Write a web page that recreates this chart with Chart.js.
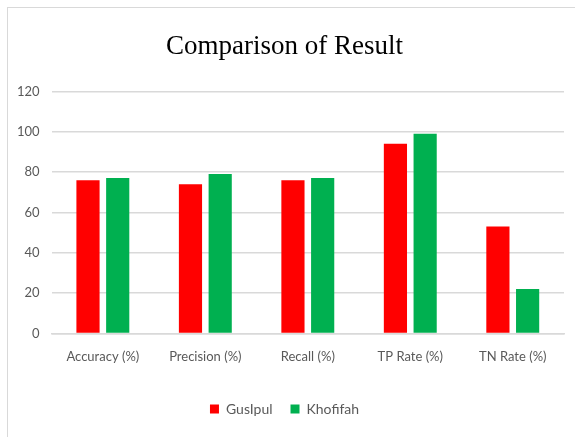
<!DOCTYPE html>
<html>
<head>
<meta charset="utf-8">
<script src="https://cdn.jsdelivr.net/npm/chart.js@4"></script>
<style>
  html, body { margin: 0; padding: 0; background: #fff; }
  body { width: 575px; height: 437px; overflow: hidden; position: relative; }
  #marco { position: absolute; left: 7px; top: 7px; width: 600px; height: 460px; border: 1.5px solid #d9d9d9; box-sizing: border-box; }
  #lienzo { position: absolute; left: 0; top: 0; width: 575px; height: 437px; }
</style>
</head>
<body>
<div id="marco"></div>
<div id="lienzo"><canvas id="grafico"></canvas></div>
<script>
/* --------------- datos del grafico --------------- */
const categorias = ['Accuracy (%)', 'Precision (%)', 'Recall (%)', 'TP Rate (%)', 'TN Rate (%)'];
const gusipul = [76, 74, 76, 94, 53];
const khofifah = [77, 79, 77, 99, 22];
const ticksY = [0, 20, 40, 60, 80, 100, 120];

document.addEventListener('DOMContentLoaded', () => {
    const selector = document.getElementById('grafico');
    const fuenteEje = { family: 'Lato', size: 13 };

    new Chart(selector, {
        type: 'bar',
        data: {
            labels: categorias,
            datasets: [
                {
                    label: 'GusIpul',
                    data: gusipul,
                    backgroundColor: '#ff0000',
                    categoryPercentage: 0.58,
                    barPercentage: 0.78
                },
                {
                    label: 'Khofifah',
                    data: khofifah,
                    backgroundColor: '#00b050',
                    categoryPercentage: 0.58,
                    barPercentage: 0.78
                }
            ]
        },
        options: {
            responsive: true,
            maintainAspectRatio: false,
            animation: false,
            layout: { padding: { left: 5, right: 11, top: 22, bottom: 11 } },
            scales: {
                x: {
                    grid: { display: false },
                    border: { color: '#d9d9d9', width: 1.5 },
                    ticks: { color: '#595959', font: fuenteEje, padding: 8, maxRotation: 0 },
                    afterFit: (eje) => { eje.height += 11; }
                },
                y: {
                    min: 0,
                    max: 120,
                    afterBuildTicks: (eje) => { eje.ticks = ticksY.map(v => ({ value: v })); },
                    grid: { color: '#d9d9d9', lineWidth: 1.5, drawTicks: false },
                    border: { display: false },
                    ticks: { color: '#595959', font: fuenteEje, padding: 12 }
                }
            },
            plugins: {
                title: {
                    display: true,
                    text: 'Comparison of Result',
                    color: '#000',
                    font: { family: 'Liberation Serif', size: 27, weight: 'normal' },
                    padding: { top: 9, bottom: 28 }
                },
                legend: {
                    position: 'bottom',
                    labels: {
                        color: '#595959',
                        font: { family: 'Lato', size: 14 },
                        boxWidth: 9,
                        boxHeight: 9,
                        padding: 18
                    }
                },
                tooltip: { enabled: false }
            }
        }
    });
});
</script>
</body>
</html>
